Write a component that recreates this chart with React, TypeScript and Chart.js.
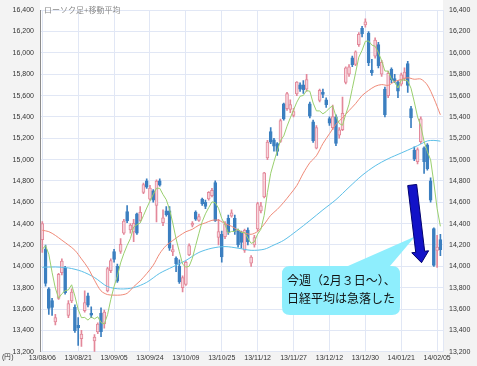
import React, { useEffect, useRef } from 'react';
import { Chart, registerables } from 'chart.js';

Chart.register(...registerables);

const dateLabels = ['13/08/06', '13/08/21', '13/09/05', '13/09/24', '13/10/09', '13/10/25', '13/11/12', '13/11/27', '13/12/12', '13/12/30', '14/01/21', '14/02/05'];
const dateTickIndex = [0, 11, 22, 33, 44, 55, 66, 77, 88, 99, 110, 121];
const yTickValues = [13200, 13400, 13600, 13800, 14000, 14200, 14400, 14600, 14800, 15000, 15200, 15400, 15600, 15800, 16000, 16200, 16400];

const opens = [
  14250, 14160, 13790, 13680, 13480, 13700, 13940, 13985, 13540, 13677,
  13615, 13446, 13323, 13585, 13723, 13560, 13300, 13385, 13560, 13460,
  13770, 13960, 14139, 14000, 14139, 14310, 14514, 14340, 14323, 14492,
  14431, 14692, 14800, 14630, 14708, 14570, 14800, 14410, 14520, 14520,
  14135, 14077, 14000, 13800, 13831, 14108, 14385, 14508, 14431, 14631,
  14600, 14631, 14661, 14785, 14270, 14300, 14277, 14450, 14470, 14450,
  14330, 14320, 14150, 14340, 14030, 14200, 14350, 14520, 14650, 15015,
  15262, 15185, 15150, 15170, 15523, 15477, 15470, 15415, 15615, 15700,
  15700, 15660, 15523, 15354, 15108, 15554, 15631, 15560, 15385, 15300,
  15400, 15230, 15280, 15723, 15800, 15954, 15892, 16077, 16231, 16261,
  16185, 15840, 15969, 16077, 15800, 15662, 15600, 15846, 15760, 15723,
  15708, 15760, 15900, 15477, 15090, 14980, 15169, 15110, 15139, 14800,
  14354, 14150, 14250,
];
const highs = [
  14420, 14200, 13800, 13700, 13550, 13935, 14070, 14000, 13680, 13790,
  13640, 13520, 13400, 13770, 13750, 13620, 13360, 13470, 13610, 13590,
  13990, 14070, 14160, 14020, 14260, 14440, 14570, 14400, 14440, 14500,
  14560, 14780, 14820, 14760, 14720, 14810, 14820, 14530, 14560, 14560,
  14200, 14090, 14060, 13910, 14050, 14210, 14420, 14520, 14490, 14640,
  14620, 14700, 14730, 14800, 14440, 14330, 14420, 14480, 14530, 14480,
  14350, 14330, 14350, 14360, 14100, 14290, 14600, 14600, 14880, 15180,
  15300, 15200, 15160, 15380, 15530, 15630, 15560, 15480, 15730, 15720,
  15740, 15800, 15540, 15370, 15320, 15660, 15660, 15580, 15400, 15510,
  15420, 15300, 15585, 15870, 15890, 15970, 16020, 16190, 16250, 16320,
  16200, 15940, 16140, 16100, 15930, 15680, 15830, 15860, 15800, 15740,
  15810, 15860, 15920, 15500, 15120, 15110, 15400, 15120, 15150, 14830,
  14360, 14290, 14300,
];
const lows = [
  14130, 13815, 13550, 13540, 13450, 13690, 13920, 13740, 13520, 13660,
  13380, 13260, 13250, 13570, 13620, 13520, 13190, 13370, 13340, 13420,
  13760, 13940, 14040, 13850, 14120, 14300, 14410, 14310, 14230, 14300,
  14420, 14680, 14730, 14620, 14600, 14415, 14750, 14380, 14470, 14150,
  14100, 13950, 13840, 13760, 13820, 14100, 14370, 14430, 14420, 14570,
  14540, 14620, 14650, 14420, 14200, 14040, 14260, 14300, 14460, 14300,
  14180, 14170, 14130, 14200, 14000, 14180, 14330, 14500, 14640, 15000,
  15150, 15080, 15040, 15160, 15370, 15460, 15440, 15400, 15600, 15640,
  15620, 15640, 15390, 15160, 15100, 15540, 15580, 15490, 15320, 15280,
  15130, 15200, 15270, 15710, 15780, 15870, 15880, 16060, 16150, 16240,
  15880, 15790, 15950, 15860, 15780, 15400, 15580, 15720, 15720, 15580,
  15690, 15740, 15630, 15300, 14990, 14960, 15150, 14870, 14900, 14600,
  14000, 13990, 14100,
];
const closes = [
  14401, 13840, 13605, 13615, 13519, 13925, 14050, 13752, 13650, 13758,
  13396, 13424, 13365, 13660, 13636, 13542, 13338, 13459, 13388, 13572,
  13978, 14053, 14065, 13860, 14205, 14423, 14425, 14387, 14404, 14311,
  14505, 14766, 14742, 14733, 14620, 14799, 14760, 14455, 14485, 14170,
  14157, 14024, 13853, 13894, 14037, 14194, 14404, 14441, 14467, 14586,
  14561, 14693, 14713, 14426, 14325, 14088, 14396, 14325, 14502, 14327,
  14201, 14225, 14337, 14228, 14086, 14269, 14588, 14567, 14876, 15165,
  15164, 15126, 15076, 15365, 15381, 15619, 15515, 15449, 15727, 15661,
  15655, 15749, 15407, 15177, 15299, 15650, 15611, 15515, 15341, 15403,
  15152, 15279, 15433, 15859, 15870, 15889, 16009, 16174, 16178, 16291,
  15908, 15814, 16121, 15880, 15912, 15422, 15809, 15747, 15734, 15641,
  15795, 15820, 15695, 15391, 15005, 15094, 15383, 14980, 14914, 14619,
  14008, 14180, 14155,
];

// 5-day moving average (green)
const ma5 = [
  14160, 14194, 14114, 13944, 13796, 13701, 13743, 13772, 13779, 13827,
  13721, 13596, 13519, 13521, 13496, 13525, 13508, 13527, 13473, 13460,
  13547, 13690, 13811, 13906, 14032, 14121, 14196, 14260, 14369, 14390,
  14406, 14475, 14546, 14611, 14673, 14732, 14731, 14673, 14624, 14534,
  14405, 14258, 14138, 14020, 13993, 14000, 14076, 14194, 14309, 14418,
  14492, 14550, 14604, 14596, 14544, 14449, 14390, 14312, 14327, 14328,
  14350, 14316, 14318, 14264, 14215, 14229, 14302, 14348, 14477, 14693,
  14872, 14980, 15081, 15179, 15222, 15313, 15391, 15466, 15538, 15594,
  15601, 15648, 15640, 15530, 15457, 15456, 15429, 15450, 15483, 15504,
  15404, 15338, 15322, 15425, 15519, 15666, 15812, 15960, 16024, 16108,
  16112, 16073, 16062, 16003, 15927, 15830, 15829, 15754, 15725, 15671,
  15745, 15747, 15737, 15668, 15541, 15401, 15314, 15171, 15075, 14998,
  14781, 14540, 14375,
];

// 25-day moving average (red), read at every other day
const ma25Idx = [
  0, 2, 4, 6, 8, 10, 12, 14, 16, 18, 20, 22, 24, 26, 28, 30, 32, 34, 36, 38,
  40, 42, 44, 46, 48, 50, 52, 54, 56, 58, 60, 62, 64, 66, 68, 70, 72, 74, 76, 78,
  80, 82, 84, 86, 88, 90, 92, 94, 96, 98, 100, 102, 104, 106, 108, 110, 112, 114, 116, 118,
  120, 122,
];
const ma25Val = [
  14338, 14325, 14290, 14245, 14200, 14150, 14070, 13985, 13870, 13770, 13735, 13730, 13731, 13747, 13809, 13864, 13932, 14010, 14120, 14196,
  14242, 14286, 14324, 14347, 14386, 14407, 14431, 14432, 14401, 14375, 14339, 14313, 14300, 14327, 14394, 14478, 14533, 14600, 14676, 14757,
  14873, 14971, 15036, 15150, 15242, 15330, 15392, 15459, 15524, 15600, 15648, 15687, 15703, 15696, 15732, 15751, 15767, 15753, 15755, 15699,
  15574, 15420,
];

// 75-day moving average (light blue)
const ma75Idx = [0, 4, 8, 12, 16, 20, 24, 28, 32, 36, 40, 44, 48, 52, 56, 60, 64, 68, 71, 74, 78, 82, 86, 90, 94, 98, 102, 106, 110, 114, 116, 118, 120, 122];
const ma75Val = [13991, 13994, 13985, 13954, 13895, 13810, 13788, 13800, 13850, 13935, 13995, 14055, 14130, 14170, 14185, 14170, 14150, 14160, 14200, 14244, 14333, 14429, 14529, 14625, 14741, 14852, 14941, 15008, 15062, 15116, 15146, 15175, 15180, 15173];

const UP_FILL = '#f7d5dc';
const UP_LINE = '#e3889a';
const DOWN = '#3b7fc0';
const GREEN = '#9ad06e';
const RED = '#f08a78';
const SKY = '#5cbfe8';
const GRID = '#e1e7f5';
const FONT = '"Liberation Sans", Arial, sans-serif';
const JP = '"Noto Sans CJK JP", sans-serif';

const isUp = (i: number) => closes[i] >= opens[i];

const bgPlugin = {
  id: 'bgPanels',
  beforeDraw(chart: any) {
    const { ctx, chartArea: a, width, height } = chart;
    ctx.save();
    ctx.fillStyle = '#f3f3f3';
    ctx.fillRect(0, 0, width, height);
    ctx.fillStyle = '#ffffff';
    ctx.fillRect(a.left, 0, a.right - a.left, a.bottom);
    ctx.restore();
  },
};

const notePlugin = {
  id: 'notes',
  afterDraw(chart: any) {
    const { ctx, chartArea: a } = chart;
    ctx.save();
    // title
    ctx.font = '8px ' + JP;
    ctx.fillStyle = '#8a8a8a';
    ctx.textBaseline = 'middle';
    ctx.textAlign = 'left';
    ctx.fillText('ローソク足+移動平均', a.left + 4, 10);
    // unit
    ctx.font = '7px ' + FONT;
    ctx.fillStyle = '#333';
    ctx.fillText('(円)', 2, 357);

    // callout
    const bx = 282, by = 266, bw = 118, bh = 49, r = 8;
    ctx.fillStyle = '#8eeefd';
    ctx.beginPath();
    ctx.moveTo(bx + r, by);
    ctx.lineTo(348, by);
    ctx.lineTo(415, 236.5);
    ctx.lineTo(390, by);
    ctx.lineTo(bx + bw - r, by);
    ctx.quadraticCurveTo(bx + bw, by, bx + bw, by + r);
    ctx.lineTo(bx + bw, by + bh - r);
    ctx.quadraticCurveTo(bx + bw, by + bh, bx + bw - r, by + bh);
    ctx.lineTo(bx + r, by + bh);
    ctx.quadraticCurveTo(bx, by + bh, bx, by + bh - r);
    ctx.lineTo(bx, by + r);
    ctx.quadraticCurveTo(bx, by, bx + r, by);
    ctx.closePath();
    ctx.fill();
    ctx.fillStyle = '#111';
    ctx.font = '12px ' + JP;
    ctx.fillText('今週（2月３日～）、', 287, 280);
    ctx.fillText('日経平均は急落した', 287, 298);

    // arrow
    const sx = 412.2, sy = 185, tx = 421.5, ty = 262.7;
    const dx = tx - sx, dy = ty - sy;
    const len = Math.hypot(dx, dy);
    const ux = dx / len, uy = dy / len;
    const nx = uy, ny = -ux;
    const hx = tx - ux * 11, hy = ty - uy * 11;
    const sw = 4.5, hw = 8.5;
    ctx.beginPath();
    ctx.moveTo(sx + nx * sw, sy + ny * sw);
    ctx.lineTo(hx + nx * sw, hy + ny * sw);
    ctx.lineTo(hx + nx * hw, hy + ny * hw);
    ctx.lineTo(tx, ty);
    ctx.lineTo(hx - nx * hw, hy - ny * hw);
    ctx.lineTo(hx - nx * sw, hy - ny * sw);
    ctx.lineTo(sx - nx * sw, sy - ny * sw);
    ctx.closePath();
    ctx.fillStyle = '#1212c8';
    ctx.fill();
    ctx.strokeStyle = '#00006e';
    ctx.lineWidth = 1;
    ctx.stroke();
    ctx.restore();
  },
};

export default function App() {
  const ref = useRef<HTMLCanvasElement | null>(null);

  useEffect(() => {
    if (!ref.current) return;
    const yTickSetter = (s: any) => {
      s.ticks = yTickValues.map((v) => ({ value: v }));
    };
    const yFmt = (v: any) => Number(v).toLocaleString('en-US');
    const chart = new Chart(ref.current, {
      type: 'bar',
      data: {
        datasets: [
          {
            type: 'line',
            label: '5日移動平均',
            data: ma5.map((v, i) => ({ x: i, y: v })),
            borderColor: GREEN,
            borderWidth: 1,
            pointRadius: 0,
            tension: 0,
            order: 0,
          } as any,
          {
            type: 'line',
            label: '25日移動平均',
            data: ma25Idx.map((x, k) => ({ x, y: ma25Val[k] })),
            borderColor: RED,
            borderWidth: 1,
            pointRadius: 0,
            tension: 0.3,
            order: 0,
          } as any,
          {
            type: 'line',
            label: '75日移動平均',
            data: ma75Idx.map((x, k) => ({ x, y: ma75Val[k] })),
            borderColor: SKY,
            borderWidth: 1,
            pointRadius: 0,
            tension: 0.3,
            order: 0,
          } as any,
          {
            type: 'bar',
            label: '実体',
            data: opens.map((o, i) => ({ x: i, y: [o, closes[i]] })),
            backgroundColor: (c: any) => (isUp(c.dataIndex) ? UP_FILL : DOWN),
            borderColor: (c: any) => (isUp(c.dataIndex) ? UP_LINE : DOWN),
            borderWidth: 1,
            borderSkipped: false,
            barThickness: 3,
            grouped: false,
            order: 1,
          } as any,
          {
            type: 'bar',
            label: 'ヒゲ',
            data: lows.map((l, i) => ({ x: i, y: [l, highs[i]] })),
            backgroundColor: (c: any) => (isUp(c.dataIndex) ? UP_LINE : DOWN),
            borderWidth: 0,
            barThickness: 1,
            grouped: false,
            order: 2,
          } as any,
        ],
      },
      options: {
        responsive: false,
        animation: false,
        events: [],
        layout: { padding: { top: 5, left: 0, right: 0, bottom: 0 } },
        plugins: {
          legend: { display: false },
          tooltip: { enabled: false },
          title: { display: false },
        },
        scales: {
          x: {
            type: 'linear',
            offset: false,
            min: -0.7,
            max: 122.8,
            afterBuildTicks: (s: any) => {
              s.ticks = dateTickIndex.map((v) => ({ value: v }));
            },
            afterFit: (s: any) => {
              s.height = 14.3;
            },
            ticks: {
              autoSkip: false,
              maxRotation: 0,
              padding: 2,
              color: '#333',
              font: { size: 7, family: FONT },
              callback: (v: any) => dateLabels[dateTickIndex.indexOf(Number(v))],
            },
            grid: { color: GRID, drawTicks: false, offset: false },
            border: { color: GRID },
          },
          y: {
            type: 'linear',
            position: 'left',
            min: 13200,
            max: 16400,
            afterBuildTicks: yTickSetter,
            afterFit: (s: any) => {
              s.width = 40;
            },
            ticks: {
              padding: 6,
              color: '#333',
              font: { size: 7, family: FONT },
              callback: yFmt,
            },
            grid: { color: GRID, drawTicks: false },
            border: { color: '#8c8c8c' },
          },
          y2: {
            type: 'linear',
            position: 'right',
            min: 13200,
            max: 16400,
            afterBuildTicks: yTickSetter,
            afterFit: (s: any) => {
              s.width = 34;
            },
            ticks: {
              padding: 6,
              color: '#333',
              font: { size: 7, family: FONT },
              callback: yFmt,
            },
            grid: { drawOnChartArea: false, drawTicks: false },
            border: { color: GRID },
          },
        },
      } as any,
      plugins: [bgPlugin, notePlugin],
    });
    return () => chart.destroy();
  }, []);

  return (
    <div style={{ position: 'absolute', left: 0, top: 0, width: 477, height: 366 }}>
      <canvas ref={ref} width={477} height={366} style={{ width: 477, height: 366, display: 'block' }} />
    </div>
  );
}
